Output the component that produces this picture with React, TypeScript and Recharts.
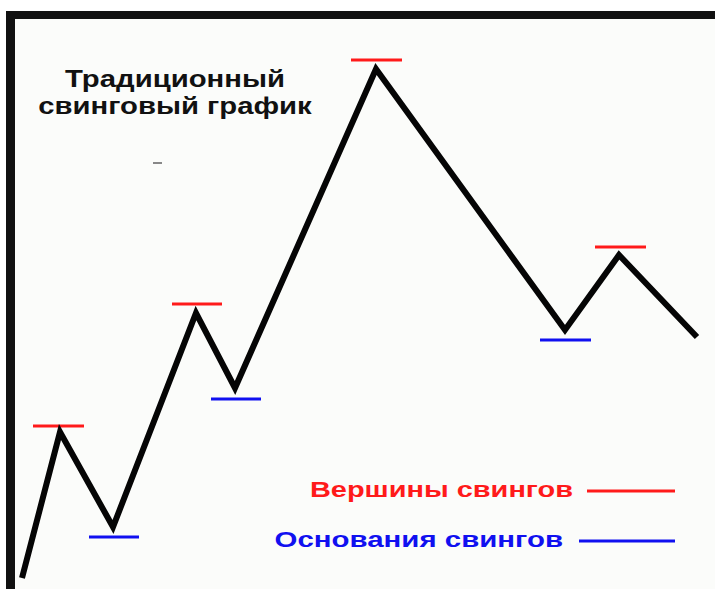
import { LineChart, Line, XAxis, YAxis, ReferenceLine } from 'recharts';

// swing path (bar position, price)
const bars = [22, 60, 113, 196, 235, 376, 565, 619, 697];
const prices = [11, 157, 62, 276, 201, 520, 259, 334, 252];

// swing highs (red) and swing lows (blue) markers
const highFrom = [33, 172, 351, 595];
const highTo = [84, 222, 402, 646];
const highLevel = [163, 285, 529, 342];

const lowFrom = [89, 211, 540];
const lowTo = [139, 261, 591];
const lowLevel = [52, 190, 249];

// legend sample lines
const legendFrom = [587, 579];
const legendTo = [675, 675];
const legendLevel = [98, 48];
const legendColors = ['#ff1a1a', '#1010f0'];

const titleLines = ['Традиционный', 'свинговый график'];
const legendLabels = ['Вершины свингов', 'Основания свингов'];

const data = bars.map((b, i) => ({ bar: b, price: prices[i] }));

export default function App() {
	return (
		<div
			style={{
				position: 'absolute',
				left: 0,
				top: 0,
				width: 715,
				height: 589,
				background: '#ffffff',
				overflow: 'hidden',
				fontFamily: '"Liberation Sans", Arial, sans-serif',
			}}>
			<div
				style={{
					position: 'absolute',
					left: 6,
					top: 11,
					width: 709,
					height: 578,
					boxSizing: 'border-box',
					borderTop: '8px solid #111',
					borderLeft: '9px solid #111',
					background: '#fbfcfa',
				}}
			/>
			<div style={{ position: 'absolute', left: 0, top: 0 }}>
				<LineChart
					width={715}
					height={589}
					data={data}
					margin={{ top: 0, right: 0, bottom: 0, left: 0 }}>
					<XAxis dataKey='bar' type='number' domain={[0, 715]} hide />
					<YAxis type='number' domain={[0, 589]} hide />
					{highLevel.map((lv, i) => (
						<ReferenceLine
							key={'h' + i}
							segment={[
								{ x: highFrom[i], y: lv },
								{ x: highTo[i], y: lv },
							]}
							stroke='#ff1a1a'
							strokeWidth={3}
						/>
					))}
					{lowLevel.map((lv, i) => (
						<ReferenceLine
							key={'l' + i}
							segment={[
								{ x: lowFrom[i], y: lv },
								{ x: lowTo[i], y: lv },
							]}
							stroke='#1010f0'
							strokeWidth={3}
						/>
					))}
					{legendLevel.map((lv, i) => (
						<ReferenceLine
							key={'g' + i}
							segment={[
								{ x: legendFrom[i], y: lv },
								{ x: legendTo[i], y: lv },
							]}
							stroke={legendColors[i]}
							strokeWidth={3}
						/>
					))}
					<Line
						type='linear'
						dataKey='price'
						stroke='#050505'
						strokeWidth={6}
						strokeLinejoin='miter'
						strokeLinecap='butt'
						dot={false}
						activeDot={false}
						isAnimationActive={false}
					/>
				</LineChart>
			</div>

			{/* title */}
			<div
				style={{
					position: 'absolute',
					left: 25,
					top: 65,
					width: 300,
					textAlign: 'center',
					fontSize: 24,
					lineHeight: '27px',
					fontWeight: 'bold',
					color: '#111',
					transform: 'scaleX(1.22)',
					transformOrigin: 'center',
				}}>
				{titleLines.map((t) => (
					<div key={t}>{t}</div>
				))}
			</div>
			<div
				style={{
					position: 'absolute',
					left: 153,
					top: 162,
					width: 9,
					height: 2,
					background: '#888',
				}}
			/>

			{/* legend */}
			{legendLabels.map((t, i) => (
				<div
					key={t}
					style={{
						position: 'absolute',
						left: 0,
						top: i === 0 ? 479 : 529,
						width: i === 0 ? 573 : 563,
						textAlign: 'right',
						fontSize: 22,
						lineHeight: '22px',
						fontWeight: 'bold',
						color: legendColors[i],
						whiteSpace: 'nowrap',
						transform: i === 0 ? 'scaleX(1.315)' : 'scaleX(1.337)',
						transformOrigin: 'right',
					}}>
					{t}
				</div>
			))}
		</div>
	);
}
